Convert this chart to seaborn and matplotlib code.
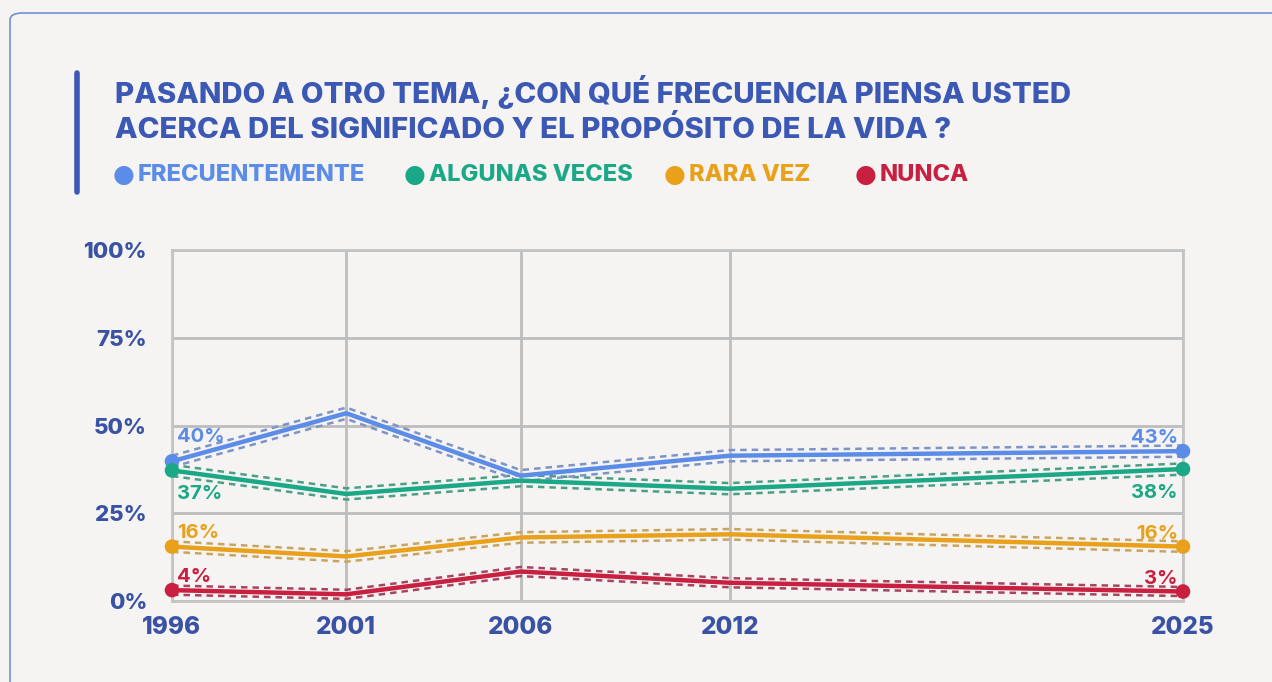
import numpy as np
import pandas as pd
import seaborn as sns
import matplotlib.pyplot as plt
from matplotlib.patches import FancyBboxPatch
from matplotlib.lines import Line2D

# datos
anios = [1996, 2001, 2006, 2012, 2025]
frecuentemente = [39.8, 53.5, 35.7, 41.4, 42.7]
algunas_veces = [37.2, 30.5, 34.3, 32.0, 37.6]
rara_vez = [15.5, 12.7, 18.1, 19.0, 15.5]
nunca = [3.1, 1.9, 8.4, 5.2, 2.7]
# margen de las bandas punteadas (+/-)
margen = {"FRECUENTEMENTE": 1.6, "ALGUNAS VECES": 1.6, "RARA VEZ": 1.5, "NUNCA": 1.3}
series = ["FRECUENTEMENTE", "ALGUNAS VECES", "RARA VEZ", "NUNCA"]
etiq_ini = ["40%", "37%", "16%", "4%"]
etiq_fin = ["43%", "38%", "16%", "3%"]
yticks = [0, 25, 50, 75, 100]
ytick_labels = ["0%", "25%", "50%", "75%", "100%"]

colores = ["#5b8de8", "#1aa886", "#e9a11b", "#c91f40"]
col_banda = ["#7f94c6", "#4c9f86", "#c8a462", "#a6455f"]
fondo = "#f5f4f2"
azul_txt = "#3a52a3"

df = pd.DataFrame({"anio": anios * 4,
                   "valor": frecuentemente + algunas_veces + rara_vez + nunca,
                   "serie": sum([[s] * len(anios) for s in series], [])})
df["m"] = df["serie"].map(margen)
df["alto"] = df["valor"] + df["m"]
df["bajo"] = df["valor"] - df["m"]

sns.set_theme(style="white")
plt.rcParams["font.family"] = ["Inter", "DejaVu Sans"]

fig = plt.figure(figsize=(12.72, 6.82), dpi=100, facecolor=fondo)
ax = fig.add_axes([172 / 1272, 1 - 601 / 682, (1183 - 172) / 1272, (601 - 250) / 682])
ax.set_facecolor(fondo)

pal = dict(zip(series, colores))
pal_b = dict(zip(series, col_banda))
for col in ["alto", "bajo"]:
    sns.lineplot(data=df, x="anio", y=col, hue="serie", palette=pal_b, ax=ax,
                 legend=False, linewidth=1.8, zorder=3)
for ln in ax.lines:
    ln.set_linestyle((0, (2.6, 2.0)))
sns.lineplot(data=df, x="anio", y="valor", hue="serie", palette=pal, ax=ax,
             legend=False, linewidth=3.2, zorder=4)

# marcadores en extremos
ext = df[df["anio"].isin([anios[0], anios[-1]])]
sns.scatterplot(data=ext, x="anio", y="valor", hue="serie", palette=pal, ax=ax,
                legend=False, s=110, edgecolor="none", zorder=5, clip_on=False)

# etiquetas de valores
desp_ini = [6.8, -6.8, 3.8, 3.6]
desp_fin = [3.6, -6.8, 3.6, 3.6]
valores = [frecuentemente, algunas_veces, rara_vez, nunca]
for i, s in enumerate(series):
    ax.text(anios[0] + 0.15, valores[i][0] + desp_ini[i], etiq_ini[i], color=colores[i],
            fontsize=14.5, fontweight="bold", ha="left", va="center", zorder=6)
    ax.text(anios[-1] - 0.15, valores[i][-1] + desp_fin[i], etiq_fin[i], color=colores[i],
            fontsize=14.5, fontweight="bold", ha="right", va="center", zorder=6)

ax.set_xlim(anios[0], anios[-1])
ax.set_ylim(0, 100)
ax.set_xticks(anios)
ax.set_xticklabels([str(a) for a in anios])
ax.set_yticks(yticks)
ax.set_yticklabels(ytick_labels)
ax.grid(True, color="#bdbdbd", linewidth=2, zorder=0)
for sp in ax.spines.values():
    sp.set_color("#c4c4c4")
    sp.set_linewidth(2)
ax.tick_params(axis="both", length=0, labelcolor=azul_txt)
ax.tick_params(axis="y", pad=18, labelsize=16)
ax.tick_params(axis="x", pad=11, labelsize=17.5)
for t in ax.get_xticklabels() + ax.get_yticklabels():
    t.set_fontweight("heavy")
ax.set_xlabel("")
ax.set_ylabel("")

# marco exterior
fig.patches.append(FancyBboxPatch((10 / 1272, -0.05), 1.2, 1 - 13 / 682 + 0.05,
                                  boxstyle="round,pad=0,rounding_size=0.01",
                                  transform=fig.transFigure, facecolor="none",
                                  edgecolor="#7091d8", linewidth=1.2))
# barra del titulo
fig.add_artist(Line2D([77 / 1272, 77 / 1272], [1 - 73 / 682, 1 - 192 / 682],
                      transform=fig.transFigure, color="#3b58b5", linewidth=4))

fig.text(115 / 1272, 1 - 92 / 682, "PASANDO A OTRO TEMA, ¿CON QUÉ FRECUENCIA PIENSA USTED",
         color="#3b58b5", fontsize=21.2, fontweight="heavy", va="center", ha="left")
fig.text(115 / 1272, 1 - 130 / 682, "ACERCA DEL SIGNIFICADO Y EL PROPÓSITO DE LA VIDA ?",
         color="#3b58b5", fontsize=21.2, fontweight="heavy", va="center", ha="left")

# leyenda
ley_x = [124, 415, 675, 866]
for i, s in enumerate(series):
    fig.text(ley_x[i] / 1272, 1 - 175 / 682, "●", color=colores[i], fontsize=18,
             va="center", ha="center", family="DejaVu Sans")
    fig.text((ley_x[i] + 14) / 1272, 1 - 175 / 682, s, color=colores[i], fontsize=17,
             fontweight="heavy", va="center", ha="left")

fig.savefig("out.png", dpi=100, facecolor=fondo)
